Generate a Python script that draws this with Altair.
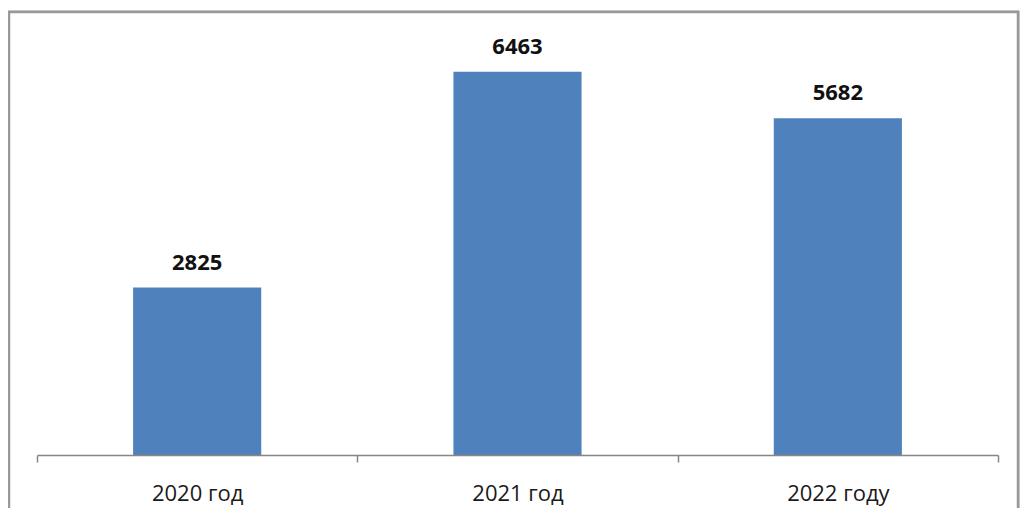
import altair as alt
import pandas as pd

categories = ["2020 год", "2021 год", "2022 году"]
values = [2825, 6463, 5682]

df = pd.DataFrame({"year": categories, "value": values})

W, H = 961, 415
FONT = "Open Sans"

x_enc = alt.X(
    "year:N",
    sort=categories,
    title=None,
    scale=alt.Scale(paddingInner=0, paddingOuter=0),
    axis=alt.Axis(
        labelAngle=0,
        labelFont=FONT,
        labelFontSize=22,
        labelColor="#1a1a1a",
        labelPadding=21,
        tickSize=7,
        tickBand="extent",
        tickColor="#8c8480",
        tickWidth=1.5,
        domainColor="#8c8480",
        domainWidth=1.5,
        grid=False,
        zindex=1,
    ),
)
y_enc = alt.Y("value:Q", title=None, scale=alt.Scale(domain=[0, 7000]), axis=None)

frame = alt.Chart(df).mark_rect(
    fill="white", stroke="#999999", strokeWidth=2.5
).encode(
    x=alt.value(-28), x2=alt.value(W + 20), y=alt.value(-28), y2=alt.value(H + 90)
)

bars = alt.Chart(df).mark_bar(
    color="#4f81bd", width=alt.RelativeBandSize(0.4)
).encode(x=x_enc, y=y_enc)

labels = alt.Chart(df).mark_text(
    font=FONT, fontSize=22, fontWeight="bold", color="#111111",
    baseline="alphabetic", dy=-18
).encode(x=alt.X("year:N", sort=categories), y=y_enc, text="value:Q")

chart = alt.layer(frame, bars, labels).properties(
    width=W, height=H,
    autosize=alt.AutoSizeParams(type="none"),
    padding={"left": 29, "top": 32, "right": 22, "bottom": 53},
).configure_view(stroke=None)

chart.save("out.html", embed_options={"renderer": "svg", "actions": False})
